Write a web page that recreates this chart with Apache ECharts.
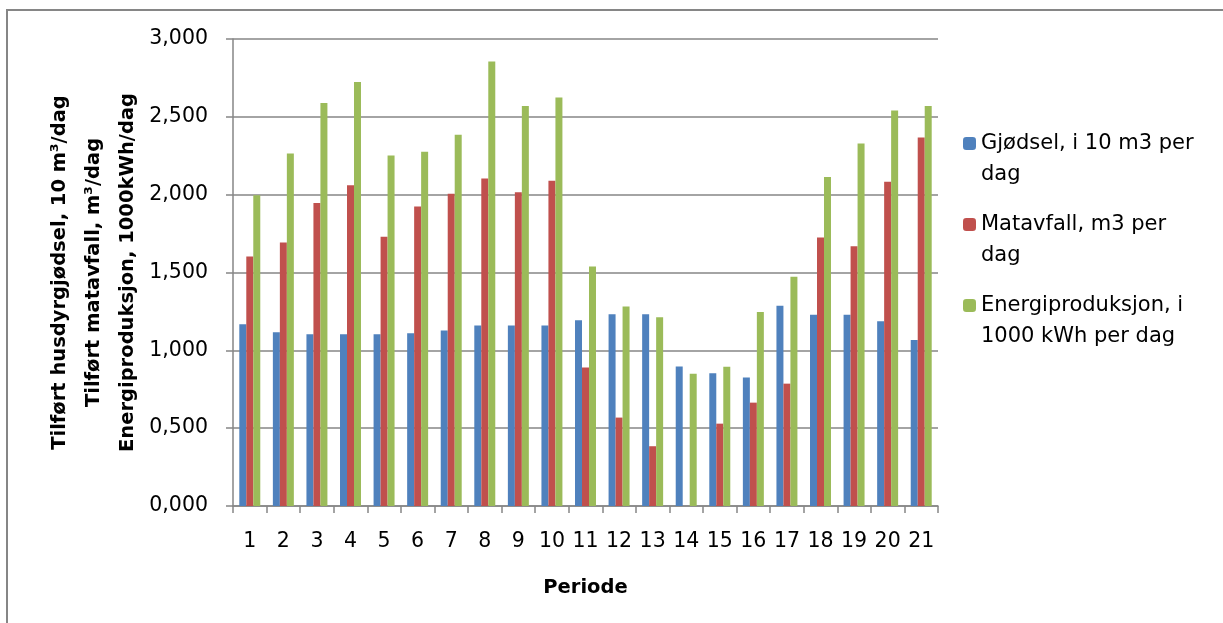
<!DOCTYPE html>
<html>
<head>
<meta charset="utf-8">
<script src="https://cdn.jsdelivr.net/npm/echarts@6/dist/echarts.min.js"></script>
<style>
  html, body { margin: 0; padding: 0; background: #fff; }
  #chart { width: 1223px; height: 623px; }
</style>
</head>
<body>
<div id="chart"></div>
<script>
var perioder = ['1', '2', '3', '4', '5', '6', '7', '8', '9', '10', '11', '12', '13', '14', '15', '16', '17', '18', '19', '20', '21'];
var gjodsel = [1.168, 1.116, 1.104, 1.104, 1.104, 1.110, 1.127, 1.159, 1.159, 1.159, 1.194, 1.232, 1.232, 0.896, 0.853, 0.825, 1.286, 1.228, 1.228, 1.187, 1.067];
var matavfall = [1.603, 1.693, 1.946, 2.061, 1.729, 1.924, 2.006, 2.104, 2.016, 2.089, 0.889, 0.568, 0.384, 0, 0.529, 0.664, 0.786, 1.725, 1.669, 2.083, 2.368];
var energi = [1.997, 2.265, 2.589, 2.723, 2.252, 2.276, 2.385, 2.856, 2.569, 2.625, 1.539, 1.281, 1.213, 0.849, 0.894, 1.247, 1.472, 2.113, 2.329, 2.541, 2.569];
var seriesNames = ['Gjødsel, i 10 m3 per\ndag', 'Matavfall, m3 per\ndag', 'Energiproduksjon, i\n1000 kWh per dag'];
var colors = ['#4F81BD', '#C0504D', '#9BBB59'];

var font = "'DejaVu Sans', sans-serif";
var grey = '#868686';

var myChart = echarts.init(document.getElementById('chart'));

function lagSerie(name, data, i) {
    return {
        name: name,
        type: 'bar',
        data: data,
        barGap: '0%',
        barCategoryGap: '37.5%',
        itemStyle: {
            color: colors[i]
        }
    };
}

myChart.setOption({
    animation: false,
    textStyle: { fontFamily: font },
    color: colors,
    graphic: [{
        type: 'rect',
        shape: { x: 7, y: 10, width: 1300, height: 700 },
        style: { fill: 'none', stroke: grey, lineWidth: 2 },
        silent: true
    }],
    grid: {
        left: 233,
        right: 285,
        top: 39,
        bottom: 117
    },
    legend: {
        orient: 'vertical',
        left: 963,
        top: 97,
        padding: 0,
        itemGap: -12,
        itemWidth: 13,
        itemHeight: 13,
        selectedMode: false,
        data: seriesNames,
        // tom første linje, så markøren står på høyde med første tekstlinje
        formatter: function (name) {
            return '\n' + name;
        },
        textStyle: {
            fontFamily: font,
            fontSize: 21,
            lineHeight: 31,
            color: '#000'
        }
    },
    xAxis: {
        type: 'category',
        data: perioder,
        name: 'Periode',
        nameLocation: 'middle',
        nameGap: 72,
        nameMoveOverlap: false,
        nameTextStyle: { fontFamily: font, fontSize: 19.5, fontWeight: 'bold', color: '#000' },
        axisLine: { lineStyle: { color: grey, width: 1.5 } },
        axisTick: { show: true, length: 7, lineStyle: { color: grey, width: 1.5 } },
        axisLabel: { margin: 25, fontSize: 20.5, color: '#000', fontFamily: font, interval: 0 }
    },
    yAxis: {
        type: 'value',
        min: 0,
        max: 3,
        interval: 0.5,
        name: 'Tilført husdyrgjødsel, 10 m³/dag\nTilført matavfall, m³/dag\nEnergiproduksjon, 1000kWh/dag',
        nameLocation: 'middle',
        nameGap: 88,
        nameMoveOverlap: false,
        nameTextStyle: { fontFamily: font, fontSize: 19.5, fontWeight: 'bold', color: '#000', lineHeight: 34 },
        axisLine: { show: true, lineStyle: { color: grey, width: 1.5 } },
        axisTick: { show: true, length: 7, lineStyle: { color: grey, width: 1.5 } },
        splitLine: { lineStyle: { color: grey, width: 1.5 } },
        axisLabel: {
            margin: 25,
            fontSize: 20.5,
            color: '#000',
            fontFamily: font,
            formatter: function (v) {
                return v.toFixed(3).replace('.', ',');
            }
        }
    },
    series: [
        lagSerie(seriesNames[0], gjodsel, 0),
        lagSerie(seriesNames[1], matavfall, 1),
        lagSerie(seriesNames[2], energi, 2)
    ]
});

window.onresize = function () {
    myChart.resize();
}
</script>
</body>
</html>
